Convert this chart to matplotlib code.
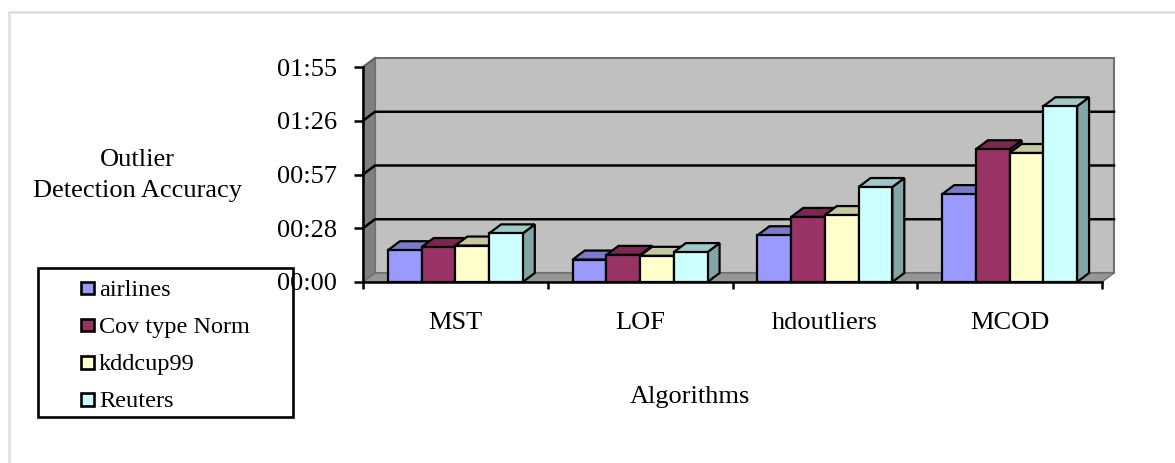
import matplotlib
matplotlib.use("Agg")
import matplotlib.pyplot as plt
from matplotlib.patches import Polygon, Rectangle

plt.rcParams["font.family"] = ["Liberation Serif", "DejaVu Serif"]

algorithms = ["MST", "LOF", "hdoutliers", "MCOD"]
# times in seconds
airlines = [17, 12, 25, 47]
covtype = [18.7, 14.5, 34.8, 71]
kddcup = [19.5, 14, 35.8, 69]
reuters = [26, 16, 50.8, 94]
series_names = ["airlines", "Cov type Norm", "kddcup99", "Reuters"]
series_values = [airlines, covtype, kddcup, reuters]

tick_values = [0, 28.75, 57.5, 86.25, 115]
tick_labels = ["00:00", "00:28", "00:57", "01:26", "01:55"]

face = ["#9999FF", "#993366", "#FFFFCC", "#CCFFFF"]
top = ["#7A7AC8", "#7A2851", "#C8C89E", "#9FC8C8"]
side = ["#6E6EB8", "#6E2549", "#B8B892", "#82A6A6"]

W, H = 1175, 463
fig = plt.figure(figsize=(W / 100, H / 100), dpi=100)

# frame of the page around the chart, only left and top show
bg = fig.add_axes([0, 0, 1, 1])
bg.set_xlim(0, W)
bg.set_ylim(H, 0)
bg.axis("off")
bg.plot([9, 9, W], [H, 12, 12], color="#DDDDDD", lw=1.8)

ax = fig.add_axes([363 / W, (H - 282) / H, 739 / W, 215 / H])
ax.set_xlim(0, 4)
ax.set_ylim(0, 115)
ax.patch.set_visible(False)
for s in ["top", "right"]:
    ax.spines[s].set_visible(False)
for s in ["left", "bottom"]:
    ax.spines[s].set_linewidth(1.8)

# depth of the fake 3d box, in data units
dx = 12 / 184.75
dy = 9 / (215 / 115)

ax.add_patch(Polygon([(dx, dy), (4 + dx, dy), (4 + dx, 115 + dy), (dx, 115 + dy)],
                     facecolor="#C0C0C0", edgecolor="#707070", lw=1.5, clip_on=False, zorder=1))
ax.add_patch(Polygon([(0, 0), (dx, dy), (dx, 115 + dy), (0, 115)],
                     facecolor="#808080", edgecolor="#707070", lw=1, clip_on=False, zorder=1))
ax.add_patch(Polygon([(0, 0), (4, 0), (4 + dx, dy), (dx, dy)],
                     facecolor="#969696", edgecolor="#707070", lw=1, clip_on=False, zorder=1))

for v in tick_values[1:-1]:
    ax.plot([0, dx, 4 + dx], [v, v + dy, v + dy], color="black", lw=1.8, clip_on=False, zorder=2)
ax.plot([0, dx], [115, 115 + dy], color="#606060", lw=1.5, clip_on=False, zorder=2)

bar_w = 0.1825
for i, values in enumerate(series_values):
    for j, v in enumerate(values):
        x0 = j + 0.135 + i * bar_w
        x1 = x0 + bar_w
        order = 3 + j + i * 0.1
        ax.add_patch(Polygon([(x1, 0), (x1 + dx, dy), (x1 + dx, v + dy), (x1, v)],
                             facecolor=side[i], edgecolor="black", lw=1.6, clip_on=False, zorder=order))
        ax.add_patch(Polygon([(x0, v), (x1, v), (x1 + dx, v + dy), (x0 + dx, v + dy)],
                             facecolor=top[i], edgecolor="black", lw=1.6, clip_on=False, zorder=order))
        ax.add_patch(Rectangle((x0, 0), bar_w, v,
                               facecolor=face[i], edgecolor="black", lw=1.6, clip_on=False, zorder=order))

ax.set_xticks(range(5))
ax.set_xticklabels([])
ax.set_yticks(tick_values)
ax.set_yticklabels(tick_labels, fontsize=19)
ax.tick_params(axis="y", length=6.5, width=1.8, pad=12)
ax.tick_params(axis="x", length=5, width=1.8, direction="out")

for j, name in enumerate(algorithms):
    ax.text(j + 0.5, -22, name, ha="center", va="center", fontsize=19)

bg.text(690, 397, "Algorithms", ha="center", va="center", fontsize=19)
bg.text(137.5, 166, "Outlier", ha="center", va="baseline", fontsize=19)
bg.text(137.5, 197, "Detection Accuracy", ha="center", va="baseline", fontsize=19)

# legend box drawn on top of everything
leg = fig.add_axes([0, 0, 1, 1])
leg.set_xlim(0, W)
leg.set_ylim(H, 0)
leg.axis("off")
leg.add_patch(Rectangle((38, 268), 255, 149, facecolor="none", edgecolor="black", lw=1.9))
for i, name in enumerate(series_names):
    y = 287.5 + i * 37.3
    leg.add_patch(Rectangle((80.5, y - 6), 13, 12.5, facecolor=face[i], edgecolor="black", lw=1.9))
    leg.text(99, y + 8, name, ha="left", va="baseline", fontsize=17.5)

fig.savefig("out.png", dpi=100)
